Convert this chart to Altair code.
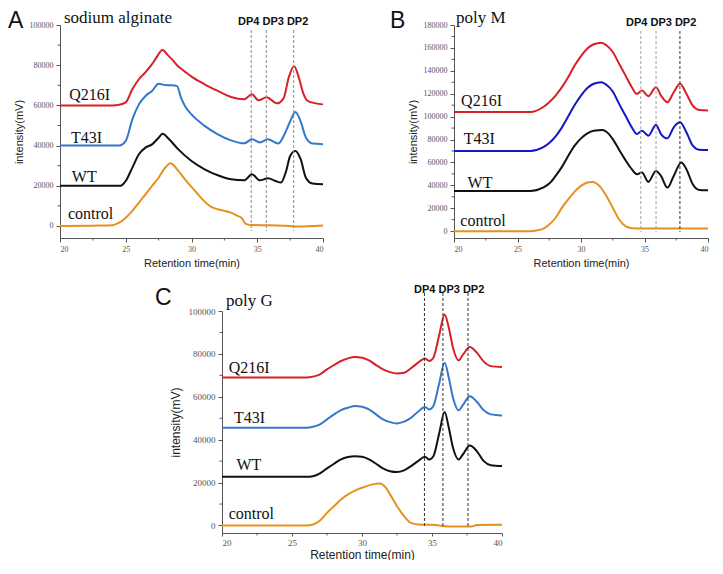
import altair as alt
import pandas as pd

SERIES = ["Q216I", "T43I", "WT", "control"]

# ---------------- Panel A : sodium alginate ----------------
A_Q216I_T = [20, 24, 24.5, 25, 25.5, 26, 26.5, 27, 27.3, 27.8, 28.2, 28.5, 29, 29.5, 30, 31, 32, 33, 34, 34.6, 35.1, 35.7, 36.5, 37.0, 37.4, 37.8, 38.2, 38.5, 38.9, 40]
A_Q216I_Y = [60000, 60000, 60300, 61500, 68000, 73000, 76500, 80500, 83500, 87500, 85000, 83000, 79300, 76800, 74300, 70500, 67200, 64200, 63000, 65500, 62500, 64000, 61000, 63500, 74000, 79500, 73000, 66000, 62000, 60500]
A_T43I_T = [20, 24.5, 25, 25.5, 26, 26.5, 27, 27.5, 28, 28.5, 28.9, 29.2, 29.5, 30, 31, 32, 33, 34, 34.6, 35.2, 35.8, 36.6, 37.1, 37.5, 37.9, 38.3, 38.7, 39.2, 40]
A_T43I_Y = [40000, 40000, 42300, 53000, 60500, 64700, 67200, 70800, 70100, 70000, 69600, 63800, 59700, 55500, 49800, 45600, 42600, 41100, 43100, 41500, 43100, 41000, 46000, 52000, 56700, 52000, 44000, 41000, 40700]
A_WT_T = [20, 24.6, 25, 25.5, 26, 26.5, 27, 27.5, 27.8, 28.3, 29, 30, 31, 32, 33, 34, 34.6, 35.2, 35.8, 36.4, 36.8, 37.2, 37.5, 37.9, 38.3, 38.7, 39.2, 40]
A_WT_Y = [20000, 20000, 22400, 29000, 35700, 39000, 40600, 43900, 45900, 43100, 38100, 32300, 28200, 25200, 23200, 22700, 25700, 22700, 23700, 22400, 21600, 27400, 34800, 37300, 33200, 24000, 21100, 20700]
A_CTRL_T = [20, 23, 24, 24.5, 25, 25.5, 26, 26.5, 27, 27.5, 28, 28.4, 29, 29.5, 30, 30.5, 31, 31.5, 32, 32.5, 33, 33.5, 33.8, 34.1, 34.5, 36, 37.5, 38, 40]
A_CTRL_Y = [0, 200, 400, 1600, 4100, 7500, 11600, 15700, 19900, 24000, 29000, 31200, 27400, 23200, 19400, 15700, 12100, 9500, 8300, 7500, 6600, 5000, 4100, 1200, 500, 300, 0, -300, 200]
A_DP_T = [34.54, 35.69, 37.77]
A_LABEL_T = [20.7, 20.84, 20.9, 20.6]
A_LABEL_Y = [62500, 41100, 22000, 3300]

# ---------------- Panel B : poly M ----------------
B_Q216I_T = [20, 26, 27, 27.5, 28, 28.5, 29, 29.5, 30, 30.5, 31, 31.6, 32, 32.5, 33, 33.5, 34, 34.4, 34.8, 35.3, 35.9, 36.3, 36.8, 37.3, 37.8, 38.3, 38.8, 39.3, 40]
B_Q216I_Y = [104000, 104000, 108200, 112600, 118400, 125700, 134500, 144700, 152900, 159400, 163200, 164600, 162300, 156400, 146200, 136000, 125700, 119900, 122800, 117800, 125700, 118400, 112600, 121300, 128700, 119900, 109600, 105800, 105300]
B_T43I_T = [20, 26, 27, 27.5, 28, 28.5, 29, 29.5, 30, 30.5, 31, 31.6, 32, 32.5, 33, 33.5, 34, 34.4, 34.8, 35.3, 35.9, 36.3, 36.8, 37.3, 37.8, 38.3, 38.8, 39.3, 40]
B_T43I_Y = [70000, 70000, 73100, 76900, 82700, 90600, 100300, 110200, 118400, 124900, 128700, 130100, 127800, 121900, 111100, 100900, 90600, 84800, 87700, 83300, 92700, 84800, 81000, 90600, 95000, 86300, 74600, 71100, 70800]
B_WT_T = [20, 26, 27, 27.5, 28, 28.5, 29, 29.5, 30, 30.5, 31, 31.7, 32, 32.5, 33, 33.5, 34, 34.4, 34.8, 35.3, 35.9, 36.3, 36.8, 37.3, 37.9, 38.3, 38.8, 39.3, 40]
B_WT_Y = [35000, 35000, 38000, 41500, 48200, 56100, 65800, 74600, 81000, 85400, 87700, 88300, 86800, 80400, 71100, 62000, 54100, 49700, 51200, 43000, 52600, 48200, 38000, 48200, 59900, 54100, 40900, 36000, 35700]
B_CTRL_T = [20, 26, 26.5, 27, 27.5, 28, 28.5, 29, 29.5, 30, 30.5, 30.9, 31.5, 32, 32.5, 33, 33.5, 34, 35, 40]
B_CTRL_Y = [0, 0, 600, 2000, 5800, 11700, 20500, 27800, 34500, 39500, 42400, 43000, 38900, 30700, 20500, 10200, 4400, 2600, 2300, 2300]
B_DP_T = [34.71, 35.91, 37.79]
B_LABEL_T = [20.56, 20.76, 21.07, 20.5]
B_LABEL_Y = [109000, 76000, 38000, 4400]

# ---------------- Panel C : poly G ----------------
C_T = [20, 26, 26.5, 27, 27.5, 28, 28.5, 29, 29.5, 30, 30.5, 31, 31.5, 32, 32.5, 33, 33.5, 34, 34.5, 34.8, 35.1, 35.5, 35.9, 36.2, 36.5, 36.9, 37.2, 37.7, 38.2, 38.7, 39.2, 40]
C_Q216I_Y = [69000, 69000, 69400, 70500, 72800, 74800, 76700, 77900, 78500, 78200, 77000, 74800, 72800, 71500, 70900, 71200, 73300, 75900, 77800, 76700, 78200, 88300, 98400, 92200, 82900, 77000, 79500, 83200, 80600, 76400, 74300, 73900]
C_T43I_Y = [45600, 45600, 46000, 47100, 49500, 51800, 53800, 54900, 55700, 55400, 54100, 51800, 49500, 48200, 47600, 48400, 50200, 53000, 55200, 54100, 55700, 65800, 75900, 68900, 59600, 53700, 56100, 60300, 57700, 53700, 51800, 51300]
C_WT_Y = [22700, 22700, 23000, 24300, 26600, 28800, 30800, 31900, 32300, 32000, 30800, 28800, 26600, 25300, 24900, 25700, 27700, 30000, 32000, 30800, 32300, 42500, 52900, 45600, 36200, 30800, 33100, 37300, 34700, 30000, 28100, 27700]
C_CTRL_T = [20, 26, 26.5, 27, 27.5, 28, 28.5, 29, 29.5, 30, 30.5, 31, 31.3, 31.7, 32, 32.5, 33, 33.5, 34, 35, 36.5, 37.8, 38.2, 40]
C_CTRL_Y = [0, 0, 500, 2300, 5900, 9000, 12100, 14500, 16300, 17600, 18700, 19400, 19600, 17600, 14500, 9000, 4400, 1200, 500, 300, -500, -500, 200, 300]
C_DP_T = [34.46, 35.78, 37.57]
C_LABEL_T = [20.48, 20.86, 21.03, 20.48]
C_LABEL_Y = [71200, 47900, 25700, 2800]

X_TICKS = [20, 25, 30, 35, 40]
X_MINOR = [22.5, 27.5, 32.5, 37.5]
DP_TEXT = "DP4 DP3 DP2"

RED = "#d7202a"
BLUE_LIGHT = "#3479c9"
BLUE_DARK = "#1414c8"
BLACK = "#111111"
ORANGE = "#e8901f"
AXIS_GRAY = "#555555"


def panel(series, colors, ymin, ymax, ystep, width, height, dp_t, dp_colors, dp_y,
          lab_t, lab_y, title, title_pos, dp_pos, letter, letter_pos,
          tick_fs, title_fs, x_tick, x_label_pad, title_pad_x, title_pad_y):
    rows = []
    for name, ts, ys in series:
        for t, v in zip(ts, ys):
            rows.append({"s": name, "t": t, "v": v, "c": colors[name]})
    df = pd.DataFrame(rows)

    xscale = alt.Scale(domain=[20, 40], nice=False, zero=False)
    yscale = alt.Scale(domain=[ymin, ymax], nice=False, zero=False)
    xaxis = alt.Axis(values=X_TICKS, title="Retention time(min)", grid=False,
                     labelFont="Liberation Serif", labelFontSize=tick_fs, labelColor=AXIS_GRAY,
                     titleFont="Liberation Sans", titleFontSize=title_fs, titleFontWeight="normal",
                     titleColor="#222222", titlePadding=title_pad_x, labelPadding=x_label_pad,
                     tickSize=x_tick, tickColor=AXIS_GRAY, domainColor=AXIS_GRAY)
    yaxis = alt.Axis(values=list(range(0, ymax + 1, ystep)), format="d", title="intensity(mV)",
                     grid=False, labelFont="Liberation Serif", labelFontSize=tick_fs,
                     labelColor=AXIS_GRAY, titleFont="Liberation Sans", titleFontSize=title_fs,
                     titleFontWeight="normal", titleColor="#222222", titlePadding=title_pad_y,
                     labelPadding=3, tickSize=4, tickColor=AXIS_GRAY, domainColor=AXIS_GRAY)
    X = alt.X("t:Q", scale=xscale, axis=xaxis)
    Y = alt.Y("v:Q", scale=yscale, axis=yaxis)

    lines = alt.Chart(df).mark_line(strokeWidth=2, interpolate="monotone").encode(
        x=X, y=Y, color=alt.Color("c:N", scale=None), detail="s:N")

    dp_df = pd.DataFrame({"t": dp_t, "c": dp_colors})
    rules = alt.Chart(dp_df).mark_rule(strokeDash=[3, 2], strokeWidth=1).encode(
        x=X, y=alt.value(dp_y[0]), y2=alt.value(dp_y[1]), color=alt.Color("c:N", scale=None))

    xm = alt.Chart(pd.DataFrame({"t": X_MINOR})).mark_rule(color=AXIS_GRAY).encode(
        x=X, y=alt.value(height), y2=alt.value(height + 2.5))
    yminor = [v + ystep / 2 for v in range(0, ymax, ystep)]
    ym = alt.Chart(pd.DataFrame({"v": yminor})).mark_rule(color=AXIS_GRAY).encode(
        y=Y, x=alt.value(0), x2=alt.value(-2.5))

    lab_df = pd.DataFrame({"t": lab_t, "v": lab_y, "txt": SERIES})
    labels = alt.Chart(lab_df).mark_text(align="left", baseline="alphabetic",
                                         font="Liberation Serif", fontSize=16,
                                         color="#111111").encode(x=X, y=Y, text="txt:N")

    ttl = alt.Chart(pd.DataFrame({"txt": [title]})).mark_text(
        align="left", baseline="top", font="Liberation Serif", fontSize=17,
        color="#111111").encode(x=alt.value(title_pos[0]), y=alt.value(title_pos[1]), text="txt:N")

    dpl = alt.Chart(pd.DataFrame({"txt": [DP_TEXT]})).mark_text(
        align="left", baseline="top", font="Liberation Sans", fontSize=11,
        fontWeight="bold", color="#111111").encode(
        x=alt.value(dp_pos[0]), y=alt.value(dp_pos[1]), text="txt:N")

    let = alt.Chart(pd.DataFrame({"txt": [letter]})).mark_text(
        align="left", baseline="top", font="Liberation Sans", fontSize=23,
        color="#111111").encode(x=alt.value(letter_pos[0]), y=alt.value(letter_pos[1]), text="txt:N")

    return alt.layer(lines, rules, xm, ym, labels, ttl, dpl, let).properties(
        width=width, height=height)


colA = {"Q216I": RED, "T43I": BLUE_LIGHT, "WT": BLACK, "control": ORANGE}
colB = {"Q216I": RED, "T43I": BLUE_DARK, "WT": BLACK, "control": ORANGE}

A = panel([("Q216I", A_Q216I_T, A_Q216I_Y), ("T43I", A_T43I_T, A_T43I_Y),
           ("WT", A_WT_T, A_WT_Y), ("control", A_CTRL_T, A_CTRL_Y)],
          colA, -6000, 100000, 20000, 263, 213, A_DP_T, ["#8a8a8a"] * 3, (5, 206),
          A_LABEL_T, A_LABEL_Y, "sodium alginate", (4, -15.5), (178, -8.7), "A", (-52, -15.5),
          8, 11, 4, 3, 4, 5)

B = panel([("Q216I", B_Q216I_T, B_Q216I_Y), ("T43I", B_T43I_T, B_T43I_Y),
           ("WT", B_WT_T, B_WT_Y), ("control", B_CTRL_T, B_CTRL_Y)],
          colB, -6000, 180000, 20000, 254, 213, B_DP_T, ["#a0a0a0", "#a0a0a0", "#333333"], (6, 207),
          B_LABEL_T, B_LABEL_Y, "poly  M", (2, -15.5), (172, -7.7), "B", (-64, -15.5),
          8, 11, 4, 3, 4, 5)

C = panel([("Q216I", C_T, C_Q216I_Y), ("T43I", C_T, C_T43I_Y),
           ("WT", C_T, C_WT_Y), ("control", C_CTRL_T, C_CTRL_Y)],
          colA, -3500, 100000, 20000, 280, 222, C_DP_T, ["#333333"] * 3, (-18, 217),
          C_LABEL_T, C_LABEL_Y, "poly  G", (4, -18.4), (192, -26.7), "C", (-67, -24.4),
          9, 12, 3, 2, 2, 6)

spacer = alt.Chart(pd.DataFrame({"a": [0]})).mark_point(opacity=0).encode(
    x=alt.value(0), y=alt.value(0)).properties(width=2, height=222)

top_row = alt.hconcat(A, B, spacing=63)
bottom_row = alt.hconcat(spacer, C, spacing=92)

chart = alt.vconcat(top_row, bottom_row, spacing=16).properties(
    padding=0, background="white"
).configure_view(stroke=None)

chart.save("out.html", embed_options={"renderer": "svg", "actions": False})
